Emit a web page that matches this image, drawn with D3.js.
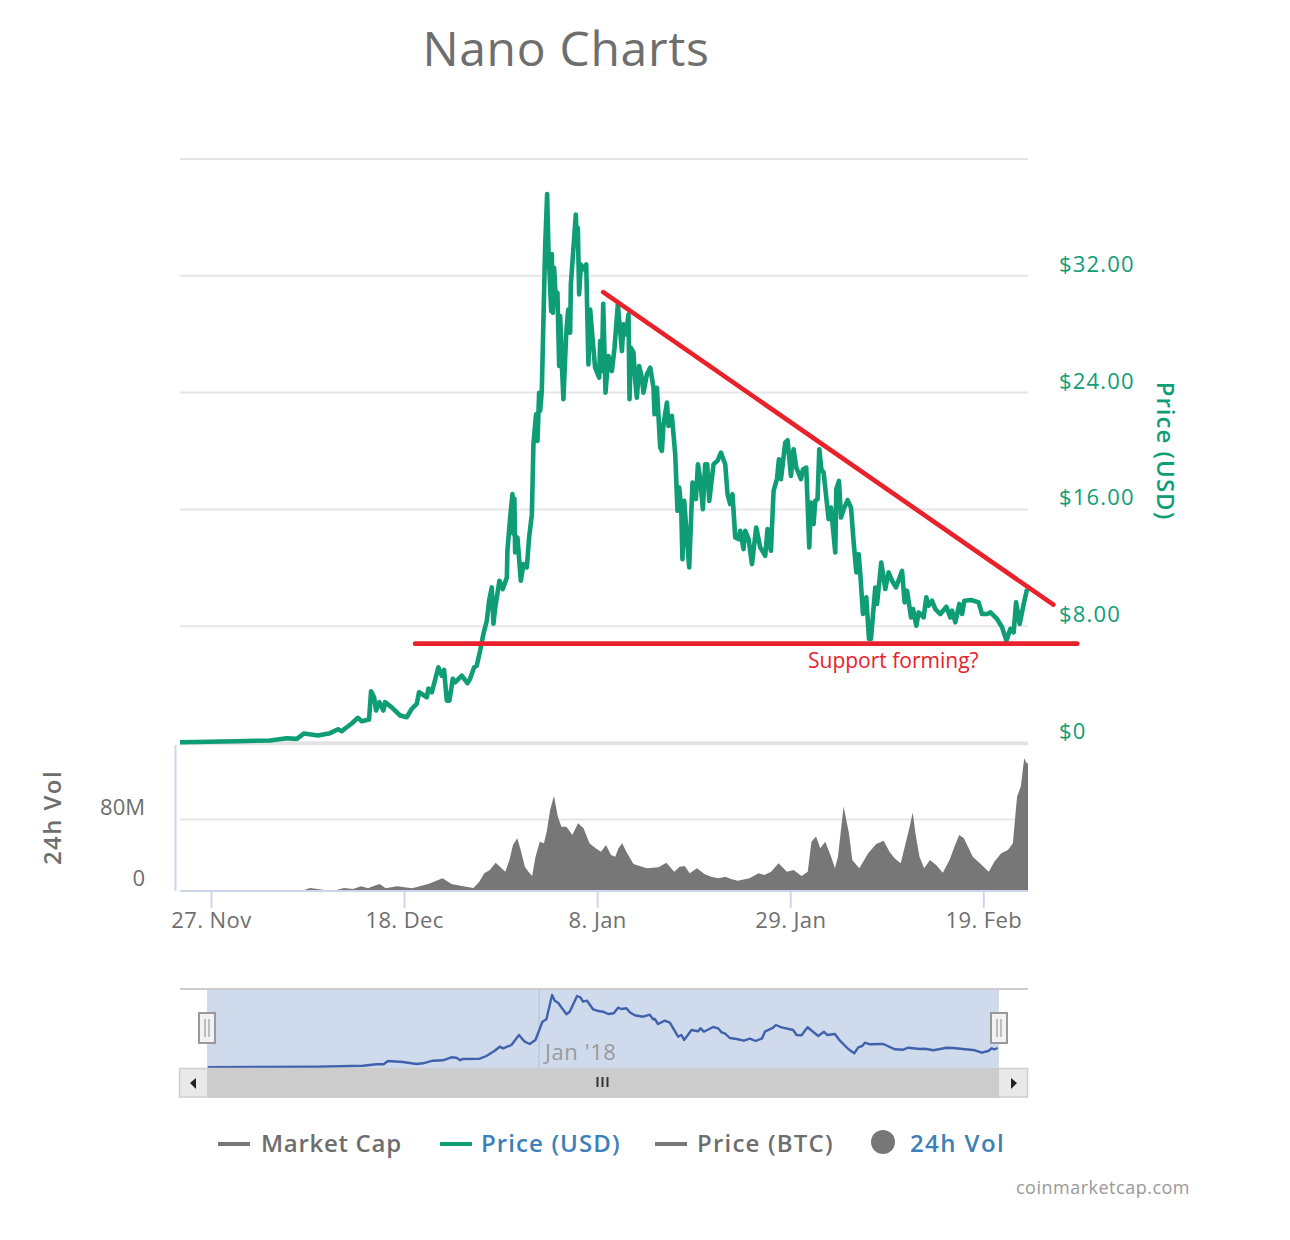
<!DOCTYPE html>
<html>
<head>
<meta charset="utf-8">
<title>Nano Charts</title>
<script src="https://cdn.jsdelivr.net/npm/d3@7"></script>
<style>
  html, body { margin: 0; background: #fff; }
  text { font-family: "Open Sans", sans-serif; }
</style>
</head>
<body>
<div id="chart"></div>
<script>
// all x values are days since 27 Nov 2017
const dateTicks = [0, 21, 42, 63, 84];
const dateLabels = ["27. Nov", "18. Dec", "8. Jan", "29. Jan", "19. Feb"];
const priceTicks = [0, 8, 16, 24, 32];
const priceLabels = ["$0", "$8.00", "$16.00", "$24.00", "$32.00"];
const volumeTicks = [0, 80];
const volumeLabels = ["0", "80M"];
const legendNames = ["Market Cap", "Price (USD)", "Price (BTC)", "24h Vol"];

const priceDays = [-3.37, 2.8, 6.42, 8.24, 9.33, 10.12, 11.64, 12.95, 13.82, 14.22, 14.58, 15.31, 15.96, 16.4, 17.19, 17.41, 17.74, 17.95, 18.31, 18.75, 18.93, 19.66, 20.57, 21.29, 21.84, 22.38, 22.63, 23.47, 23.65, 24.02, 24.73, 25.1, 25.35, 25.65, 25.93, 26.3, 26.55, 27.28, 27.89, 28.18, 28.62, 28.91, 29.27, 29.63, 30, 30.25, 30.54, 30.72, 30.9, 31.37, 31.74, 32.18, 32.24, 32.54, 32.79, 32.89, 33, 33.08, 33.33, 33.7, 33.98, 34.35, 34.6, 34.9, 35.07, 35.36, 35.51, 35.69, 35.8, 35.98, 36.34, 36.56, 36.7, 37, 37.07, 37.18, 37.32, 37.54, 37.68, 37.87, 37.98, 38.16, 38.33, 38.63, 38.85, 39.06, 39.14, 39.5, 39.68, 39.79, 39.9, 40.04, 40.23, 40.45, 40.81, 41.05, 41.24, 41.49, 41.78, 42.22, 42.33, 42.51, 42.66, 42.91, 43.23, 43.6, 43.89, 44.25, 44.69, 44.86, 45.13, 45.41, 45.52, 45.67, 45.95, 46.14, 46.32, 46.57, 46.86, 47.04, 47.41, 47.77, 48.13, 48.24, 48.5, 48.86, 49.04, 49.22, 49.59, 49.76, 50.13, 50.49, 50.74, 50.92, 51.14, 51.28, 51.47, 51.76, 52.01, 52.37, 52.74, 52.96, 53.21, 53.5, 53.75, 53.97, 54.19, 54.66, 55.09, 55.46, 55.93, 56.18, 56.47, 56.72, 57.02, 57.38, 57.56, 57.92, 58.11, 58.47, 58.84, 59.3, 59.74, 60.28, 60.53, 60.9, 61.19, 61.56, 61.77, 61.99, 62.46, 62.71, 63.08, 63.36, 63.66, 64.17, 64.39, 64.74, 65.07, 65.25, 65.54, 65.72, 65.97, 66.16, 66.38, 66.63, 67.17, 67.43, 67.9, 68.01, 68.3, 68.52, 68.81, 69.24, 69.61, 69.9, 70.19, 70.44, 70.62, 70.91, 71.27, 71.57, 71.78, 72.25, 72.44, 72.9, 73.34, 73.7, 74.07, 74.5, 75.16, 75.44, 75.7, 76.14, 76.36, 76.72, 76.97, 77.51, 77.8, 78.05, 78.42, 78.78, 79.33, 79.98, 80.41, 80.6, 80.96, 81.39, 81.69, 81.94, 82.67, 83.49, 83.86, 84.41, 84.77, 85.49, 86.04, 86.51, 86.94, 87.3, 87.56, 87.95, 88.39, 88.76];
const priceUsd = [0.02, 0.09, 0.14, 0.29, 0.25, 0.62, 0.48, 0.64, 0.91, 0.77, 0.96, 1.3, 1.69, 1.46, 1.57, 3.51, 3.1, 2.19, 2.76, 2.19, 2.76, 2.41, 1.85, 1.73, 2.31, 2.65, 3.44, 3.1, 3.69, 3.44, 5.15, 4.58, 4.97, 2.87, 2.87, 4.36, 4.12, 4.58, 4.06, 4.36, 5.15, 5.27, 6.29, 7.44, 8.34, 9.71, 10.62, 8.14, 9.17, 11.08, 10.51, 11.31, 13.13, 15.41, 17.01, 14.3, 16.69, 13.02, 14.04, 11.08, 12.22, 11.99, 14.04, 15.64, 20.43, 22.48, 20.66, 23.96, 22.71, 24.08, 33.88, 37.57, 33.88, 29.55, 33.45, 29.43, 32.51, 30.01, 30.8, 25.79, 29.21, 25.9, 23.51, 27.95, 29.66, 28.06, 31.37, 34.56, 36.16, 34.13, 35.25, 30.69, 32.74, 32.4, 32.74, 25.9, 29.66, 27.72, 25.67, 24.99, 27.5, 25.44, 30.05, 23.96, 26.47, 25.44, 27.04, 30.01, 26.81, 28.64, 27.95, 29.32, 23.51, 27.04, 26.7, 24.76, 23.62, 25.79, 24.99, 23.96, 25.22, 25.67, 24.3, 22.48, 24.3, 20.2, 19.97, 21.8, 23.28, 21.68, 22.37, 19.75, 15.87, 17.46, 16.09, 12.56, 16.55, 14.04, 11.99, 17.8, 16.67, 19.06, 18.04, 15.98, 19.06, 19.06, 16.55, 19.06, 19.29, 19.86, 19.06, 17.01, 16.33, 17.01, 14.04, 13.93, 14.5, 13.25, 14.5, 13.93, 12.22, 14.73, 13.36, 12.79, 14.62, 13.13, 17.24, 18.06, 19.4, 18.04, 20.54, 20.7, 18.26, 20.09, 18.83, 18.04, 18.72, 18.83, 13.36, 16.44, 14.96, 16.55, 16.67, 20.09, 18.72, 18.49, 15.3, 16.09, 13.02, 17.35, 17.92, 15.41, 15.98, 16.6, 16.09, 13.7, 11.65, 12.91, 11.54, 8.8, 9.94, 7.09, 7.09, 10.62, 9.49, 12.33, 10.51, 11.65, 11.08, 10.62, 11.76, 9.6, 10.4, 8.57, 9.14, 8, 8.91, 8.57, 9.94, 9.37, 9.71, 9.14, 8.8, 9.3, 8.57, 9.03, 8.23, 9.49, 8.8, 9.71, 9.76, 9.6, 8.8, 8.8, 8.91, 8.46, 7.89, 6.98, 7.78, 7.54, 9.6, 8.12, 9.49, 10.51];

const volumeDays = [-3.37, 9.9, 10.34, 11.21, 13.5, 13.82, 15.13, 15.78, 16.87, 17.3, 17.95, 18.75, 19.26, 21.22, 22.52, 24.73, 25.65, 26.66, 28.18, 28.91, 29.45, 30, 30.65, 31.27, 31.7, 32.32, 32.61, 33.08, 33.55, 33.92, 34.35, 34.71, 35.15, 35.44, 36.09, 36.34, 36.7, 37.07, 37.54, 37.9, 38.33, 38.99, 39.61, 40.23, 40.81, 41.53, 42.14, 42.69, 43.23, 43.78, 44.15, 44.5, 44.94, 45.41, 46.5, 48.31, 49.04, 50.02, 50.74, 51.22, 51.83, 52.31, 53.4, 53.94, 54.84, 55.57, 56.29, 56.83, 57.75, 59.38, 59.74, 60.64, 61.19, 62.27, 63, 63.73, 64.74, 65.07, 65.54, 66.08, 66.45, 67.17, 67.72, 68.01, 68.37, 69.24, 69.53, 69.97, 71.06, 71.89, 72.8, 73.52, 74.07, 74.62, 75.41, 75.77, 76.14, 76.5, 76.79, 77.33, 77.8, 78.6, 79.14, 80.05, 80.6, 81.14, 81.61, 82.16, 82.67, 83.03, 84.23, 84.95, 85.49, 86.4, 86.94, 87.49, 87.85, 88.32, 88.57, 88.86];
const volumeM = [0, 0, 2.3, 0, 0, 2.3, 1.1, 4.1, 1.9, 4.1, 6.8, 1.9, 4.1, 1.9, 6.8, 13.2, 6.8, 4.1, 2.3, 9.4, 18.8, 22.6, 30.8, 25.6, 20.7, 33.8, 50.8, 58.3, 43.2, 26.3, 20.7, 15.8, 37.6, 54.5, 52.6, 65.8, 90.2, 106, 82.7, 71.4, 71.4, 62, 75.2, 69.5, 52.6, 47, 43.2, 50.8, 39.5, 37.6, 47, 52.6, 43.2, 29.3, 24.4, 25.6, 30.8, 20.7, 26.3, 27.1, 18.8, 24.4, 18, 15, 13.2, 15, 12.4, 10.5, 13.2, 18.8, 16.9, 20.7, 30.1, 20.7, 22.6, 15.8, 20.7, 54.5, 60.2, 47, 54.5, 37.6, 24.4, 37.6, 94, 63.9, 33.8, 24.4, 41.4, 51.9, 55.6, 43.2, 35.7, 30.1, 54.5, 69.5, 87.2, 62, 37.6, 24.4, 33.8, 28.2, 19.5, 33.8, 48.9, 62, 58.3, 47, 37.6, 30.1, 20.7, 32, 41.4, 45.1, 52.6, 105.3, 116.5, 148.5, 142.9, 142.9];

// smoothed series shown in the navigator
const navDays = [-3.33, 9.32, 14.76, 16.33, 17.18, 17.68, 19.43, 21, 21.77, 22.93, 24.1, 25.08, 25.67, 26.13, 26.37, 28.39, 29.17, 30.14, 30.72, 31.11, 32.09, 32.97, 33.64, 34.22, 34.89, 35.71, 36.17, 36.83, 37.14, 37.53, 38.51, 38.89, 39.75, 40.14, 40.45, 40.91, 41.61, 42.08, 42.78, 43.37, 44.03, 44.53, 44.93, 45.51, 45.9, 46.48, 47.45, 48.23, 48.62, 48.82, 49.2, 49.98, 50.57, 51.54, 51.93, 52.24, 53.1, 53.87, 54.15, 54.54, 55.62, 56.21, 56.6, 56.99, 57.57, 58.36, 59.21, 59.91, 60.57, 61.34, 61.66, 62.63, 62.94, 63.61, 64.96, 65.36, 65.94, 66.64, 67.88, 68.55, 68.93, 69.83, 70.42, 71.39, 72.09, 72.55, 73.02, 73.33, 73.92, 75.47, 76.84, 77.81, 78.39, 79.76, 80.34, 81.31, 82.87, 83.64, 86.18, 86.96, 87.73, 88.13, 88.43, 88.83];
const navUsd = [0, 0.3, 0.8, 1.5, 1.5, 3.15, 2.65, 1.65, 2, 3.3, 3.5, 5, 4.8, 3.5, 4.15, 4.3, 5.65, 8.3, 10.3, 9.5, 11.15, 16.15, 12.8, 11.65, 13.65, 22.8, 24, 36.15, 33.3, 32.3, 26.5, 27.8, 35.65, 35, 32.8, 33.3, 29, 28.3, 27.8, 26.65, 27, 29.8, 29.15, 29.5, 27.5, 26, 25.3, 26.3, 24, 24.15, 21.65, 23.3, 22.3, 15.3, 16.15, 13.65, 18.65, 18, 19.5, 17.8, 20.15, 19.5, 17.5, 17, 14.65, 14.15, 13.3, 14.3, 13.15, 14.5, 17.8, 19.8, 21.15, 20, 18.65, 16.15, 16, 20, 15.65, 17.8, 16.15, 16.65, 13.3, 9.15, 7, 10, 10.65, 12.3, 11.5, 11.65, 9, 8.8, 9.8, 9.15, 9.3, 8.5, 9.8, 9.65, 8.5, 7.3, 8.15, 9.5, 9, 9.65];
const navJanDay = 35.3;

// the hand drawn lines on top of the chart
const trendDays = [42.66, 91.62];
const trendUsd = [30.85, 9.44];
const supportDays = [22.2, 94.23];
const supportUsd = [6.77, 6.77];

const green = "#0f9d76";
const red = "#e8212b";
const gray = "#6e6e6e";
const axisBlue = "#ccd6eb";

const svg = d3.select("#chart").append("svg")
    .attr("width", 1290)
    .attr("height", 1240);

const x = d3.scaleLinear().domain([-3.37, 88.86]).range([180, 1028]);
const y = d3.scaleLinear().domain([0, 40]).range([742.5, 158.5]);
const yVol = d3.scaleLinear().domain([0, 80]).range([890, 819]);
const xNav = d3.scaleLinear().domain([-3.37, 88.86]).range([207.5, 998]);
const yNav = d3.scaleLinear().domain([0, 40]).range([1067.3, 987.3]);

svg.append("text")
    .attr("x", 566).attr("y", 66)
    .attr("text-anchor", "middle")
    .attr("font-size", 48)
    .attr("letter-spacing", 0.7)
    .attr("fill", gray)
    .text("Nano Charts");

// price panel
const priceGrid = svg.append("g").attr("transform", "translate(180,0)")
    .call(d3.axisLeft(y).tickValues([8, 16, 24, 32, 40]).tickSize(-848).tickFormat(""));
priceGrid.select(".domain").remove();
priceGrid.selectAll("line").attr("stroke", "#e6e6e6").attr("stroke-width", 2);

svg.append("line")
    .attr("x1", 180).attr("x2", 1028)
    .attr("y1", y(0) + 0.8).attr("y2", y(0) + 0.8)
    .attr("stroke", "#e2e2e2").attr("stroke-width", 4);

const priceAxis = svg.append("g").attr("transform", "translate(1059,0)")
    .call(d3.axisRight(y).tickValues(priceTicks).tickSize(0).tickPadding(0)
        .tickFormat((d, i) => priceLabels[i]));
priceAxis.select(".domain").remove();
priceAxis.selectAll("text")
    .attr("dy", -11.5 + 7.5)
    .attr("font-size", 22)
    .attr("letter-spacing", 1.2)
    .attr("fill", green);

svg.append("text")
    .attr("transform", "translate(1157,451) rotate(90)")
    .attr("text-anchor", "middle")
    .attr("font-size", 24)
    .attr("font-weight", 600)
    .attr("letter-spacing", 1)
    .attr("fill", green)
    .text("Price (USD)");

const priceLine = d3.line()
    .x((d, i) => x(priceDays[i]))
    .y((d) => y(d));

svg.append("path")
    .datum(priceUsd)
    .attr("d", priceLine)
    .attr("fill", "none")
    .attr("stroke", green)
    .attr("stroke-width", 4.6)
    .attr("stroke-linejoin", "round");

// volume panel
const volGrid = svg.append("g").attr("transform", "translate(180,0)")
    .call(d3.axisLeft(yVol).tickValues([80]).tickSize(-848).tickFormat(""));
volGrid.select(".domain").remove();
volGrid.selectAll("line").attr("stroke", "#e6e6e6").attr("stroke-width", 2);

// each reading covers the span up to the next one, so draw it at the middle of that span
const volumeMid = (i) => i + 1 < volumeDays.length
    ? (volumeDays[i] + volumeDays[i + 1]) / 2
    : volumeDays[i];

const volArea = d3.area()
    .x((d, i) => x(volumeMid(i)))
    .y0(yVol(0))
    .y1((d) => yVol(d));

svg.append("path")
    .datum(volumeM)
    .attr("d", volArea)
    .attr("fill", "#777777");

const volAxis = svg.append("g").attr("transform", "translate(145,0)")
    .call(d3.axisLeft(yVol).tickValues(volumeTicks).tickSize(0).tickPadding(0)
        .tickFormat((d, i) => volumeLabels[i]));
volAxis.select(".domain").remove();
volAxis.selectAll("text")
    .attr("dy", -12 + 7)
    .attr("font-size", 22)
    .attr("fill", gray);

svg.append("line")
    .attr("x1", 175.5).attr("x2", 175.5)
    .attr("y1", 745).attr("y2", 891)
    .attr("stroke", axisBlue).attr("stroke-width", 2);

svg.append("text")
    .attr("transform", "translate(61,817.5) rotate(-90)")
    .attr("text-anchor", "middle")
    .attr("font-size", 24)
    .attr("font-weight", 600)
    .attr("letter-spacing", 1.4)
    .attr("fill", gray)
    .text("24h Vol");

const dateAxis = svg.append("g").attr("transform", "translate(0,891)")
    .call(d3.axisBottom(x).tickValues(dateTicks).tickSize(17).tickPadding(4)
        .tickFormat((d, i) => dateLabels[i]));
dateAxis.select(".domain").attr("stroke", axisBlue).attr("stroke-width", 2).attr("d", "M180,0H1028");
dateAxis.selectAll("line").attr("stroke", axisBlue).attr("stroke-width", 2);
dateAxis.selectAll("text")
    .attr("font-size", 22)
    .attr("letter-spacing", 0.4)
    .attr("fill", gray);

// navigator and scrollbar
svg.append("line")
    .attr("x1", 180).attr("x2", 1028).attr("y1", 989).attr("y2", 989)
    .attr("stroke", "#cccccc").attr("stroke-width", 2);

svg.append("rect")
    .attr("x", 207).attr("y", 990).attr("width", 792).attr("height", 78)
    .attr("fill", "#d0daed");

svg.append("line")
    .attr("x1", xNav(navJanDay)).attr("x2", xNav(navJanDay)).attr("y1", 990).attr("y2", 1068)
    .attr("stroke", "#bfc9dc").attr("stroke-width", 1.5);

svg.append("text")
    .attr("x", 545).attr("y", 1060)
    .attr("font-size", 22)
    .attr("letter-spacing", 0.6)
    .attr("fill", "#999999")
    .text("Jan '18");

const navLine = d3.line()
    .x((d, i) => xNav(navDays[i]))
    .y((d) => yNav(d));

svg.append("path")
    .datum(navUsd)
    .attr("d", navLine)
    .attr("fill", "none")
    .attr("stroke", "#3f62ab")
    .attr("stroke-width", 2.4)
    .attr("stroke-linejoin", "round");

svg.append("rect")
    .attr("x", 179.5).attr("y", 1068.5).attr("width", 848).attr("height", 28.5)
    .attr("fill", "#e9e9e9")
    .attr("stroke", "#cfcfcf").attr("stroke-width", 1.5);
svg.append("rect")
    .attr("x", 207).attr("y", 1068).attr("width", 792).attr("height", 30)
    .attr("fill", "#cccccc");

[[193, -1], [1014, 1]].forEach(([cx, dir]) => {
    svg.append("path")
        .attr("d", `M${cx + dir * 3},1083 L${cx - dir * 3},1078 L${cx - dir * 3},1089 Z`)
        .attr("fill", "#222");
});

[598, 603, 608].forEach((gx) => {
    svg.append("line")
        .attr("x1", gx - 0.5).attr("x2", gx - 0.5).attr("y1", 1077).attr("y2", 1087)
        .attr("stroke", "#333").attr("stroke-width", 2);
});

[207, 999].forEach((hx) => {
    const h = svg.append("g").attr("transform", `translate(${hx},1028)`);
    h.append("rect")
        .attr("x", -8).attr("y", -15).attr("width", 16).attr("height", 30)
        .attr("fill", "#f2f2f2").attr("stroke", "#999").attr("stroke-width", 2);
    [-2, 2].forEach((o) => {
        h.append("line")
            .attr("x1", o).attr("x2", o).attr("y1", -9).attr("y2", 9)
            .attr("stroke", "#999").attr("stroke-width", 1.2);
    });
});

// legend
const legendLineX = [218, 440, 655];
const legendTextX = [261, 481, 697, 910];
const legendSpacing = [0.7, 1.1, 1.2, 1.4];
const legendColors = [gray, "#3d80b8", gray, "#3d80b8"];
const legendMarks = ["#777777", green, "#777777"];

legendLineX.forEach((lx, i) => {
    svg.append("line")
        .attr("x1", lx).attr("x2", lx + 32).attr("y1", 1144).attr("y2", 1144)
        .attr("stroke", legendMarks[i]).attr("stroke-width", 4);
});
svg.append("circle").attr("cx", 883).attr("cy", 1142).attr("r", 12).attr("fill", "#777777");

svg.selectAll(".legend-text")
    .data(legendNames)
    .join("text")
    .attr("class", "legend-text")
    .attr("x", (d, i) => legendTextX[i])
    .attr("y", 1152)
    .attr("font-size", 24)
    .attr("font-weight", 600)
    .attr("letter-spacing", (d, i) => legendSpacing[i])
    .attr("fill", (d, i) => legendColors[i])
    .text((d) => d);

svg.append("text")
    .attr("x", 1190).attr("y", 1194)
    .attr("text-anchor", "end")
    .attr("font-size", 18)
    .attr("letter-spacing", 0.5)
    .attr("fill", "#999999")
    .text("coinmarketcap.com");

// annotations
const annotLine = (days, usd) => svg.append("line")
    .attr("x1", x(days[0])).attr("y1", y(usd[0]))
    .attr("x2", x(days[1])).attr("y2", y(usd[1]))
    .attr("stroke", red)
    .attr("stroke-width", 4.6)
    .attr("stroke-linecap", "round");

annotLine(trendDays, trendUsd);
annotLine(supportDays, supportUsd);

svg.append("text")
    .attr("x", 808).attr("y", 668)
    .attr("font-size", 21)
    .attr("fill", red)
    .text("Support forming?");
</script>
</body>
</html>
